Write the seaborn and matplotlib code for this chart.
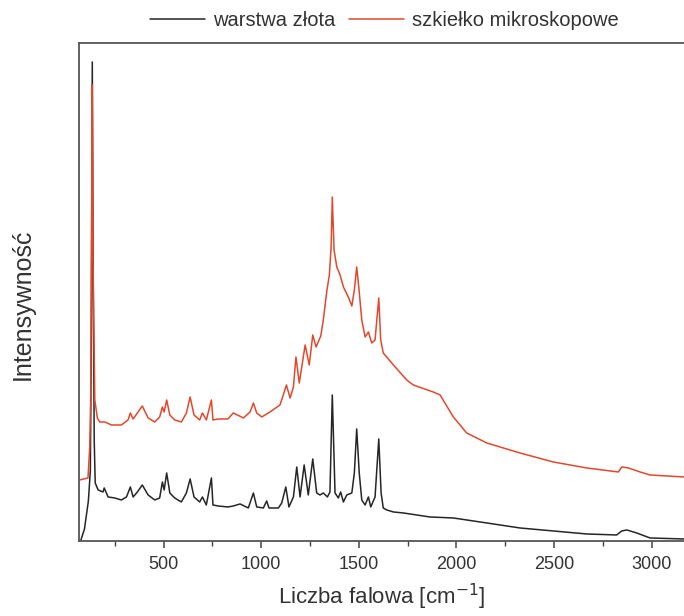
import matplotlib
matplotlib.use("Agg")
import matplotlib.pyplot as plt
import seaborn as sns
import pandas as pd
from matplotlib.ticker import MultipleLocator

sns.set_style("ticks")
plt.rcParams['font.family'] = ['Liberation Sans', 'DejaVu Sans']

# wavenumber [cm-1] and intensity (arb. units)
wn_gold = [72, 95, 115, 125, 130, 135, 140, 145, 150, 165, 190, 196, 216, 250, 284,
           310, 330, 344, 366, 391, 421, 455, 480, 494, 503, 516, 532, 557, 591, 617,
           636, 656, 685, 699, 719, 745, 753, 779, 830, 857, 892, 934, 960, 977, 1011,
           1028, 1040, 1088, 1105, 1126, 1142, 1165, 1182, 1199, 1220, 1241, 1264, 1284, 1301,
           1318, 1339, 1352, 1364, 1378, 1395, 1407, 1421, 1438, 1464, 1477, 1489, 1502, 1515,
           1532, 1549, 1561, 1583, 1602, 1614, 1625, 1643, 1677, 1728, 1796, 1864, 1984, 2155,
           2325, 2496, 2667, 2820, 2846, 2872, 2923, 2991, 3165]
int_gold = [-2, 12, 40, 70, 200, 479, 250, 100, 58, 51, 49, 53, 44, 43, 41,
            44, 54, 44, 49, 56, 46, 41, 43, 59, 51, 68, 48, 43, 39, 48,
            62, 44, 39, 44, 36, 63, 36, 35, 34, 35, 37, 33, 48, 34, 33,
            40, 33, 33, 38, 54, 34, 44, 74, 44, 76, 46, 82, 48, 46,
            48, 44, 49, 146, 48, 43, 49, 39, 46, 48, 68, 112, 68, 41,
            36, 44, 34, 44, 102, 48, 33, 31, 29, 28, 26, 24, 23, 18,
            13, 10, 7, 6, 10, 11, 8, 3, 2]

wn_glass = [70, 113, 122, 127, 131, 135, 139, 148, 161, 173, 199, 233, 284, 318, 330,
            344, 366, 391, 421, 455, 480, 494, 503, 516, 532, 557, 591, 617, 636, 656,
            685, 699, 719, 745, 753, 779, 830, 857, 909, 943, 960, 977, 1003, 1045, 1096,
            1113, 1129, 1148, 1165, 1178, 1195, 1225, 1246, 1264, 1281, 1305, 1318, 1336, 1349,
            1358, 1364, 1373, 1387, 1404, 1421, 1446, 1464, 1477, 1489, 1501, 1515, 1532, 1549,
            1566, 1583, 1602, 1612, 1625, 1677, 1745, 1779, 1881, 1916, 1984, 2052, 2155, 2325,
            2496, 2667, 2829, 2846, 2880, 2940, 2991, 3165]
int_glass = [61, 63, 94, 144, 300, 456, 280, 141, 123, 119, 119, 116, 116, 121, 128,
             122, 128, 135, 123, 119, 124, 134, 129, 141, 126, 121, 119, 128, 144, 126,
             121, 128, 121, 141, 121, 122, 122, 128, 123, 129, 138, 128, 124, 129, 136,
             146, 156, 143, 154, 184, 158, 196, 176, 206, 194, 205, 221, 250, 266,
             294, 344, 291, 274, 266, 254, 244, 235, 251, 274, 251, 221, 204, 209,
             198, 201, 243, 201, 188, 176, 161, 156, 149, 146, 124, 108, 98, 88,
             79, 73, 69, 74, 73, 69, 66, 64]

labels = ["warstwa złota", "szkiełko mikroskopowe"]
colors = ["#262626", "#e2492c"]

df = pd.concat([
    pd.DataFrame({"wn": wn_gold, "I": int_gold, "probka": labels[0]}),
    pd.DataFrame({"wn": wn_glass, "I": int_glass, "probka": labels[1]}),
])

fig = plt.figure(figsize=(6.84, 6.16), dpi=100)
ax = fig.add_axes([0.1155, 0.1218, 0.8845, 0.8084])

sns.lineplot(data=df, x="wn", y="I", hue="probka", palette=colors,
             estimator=None, sort=False, linewidth=1.1, ax=ax)

ax.set_xlim(67, 3165)
ax.set_ylim(0, 498)
ax.xaxis.set_major_locator(MultipleLocator(500))
ax.xaxis.set_minor_locator(MultipleLocator(250))
ax.set_yticks([])
ax.tick_params(axis="x", which="major", direction="out", length=5, width=1.1,
               labelsize=13, colors="#444444", labelcolor="#333333", pad=6)
ax.tick_params(axis="x", which="minor", direction="out", length=3.5, width=1.0,
               colors="#444444")
ax.spines["right"].set_visible(False)
for s in ["left", "bottom", "top"]:
    ax.spines[s].set_color("#555555")
    ax.spines[s].set_linewidth(1.3)

ax.set_xlabel("Liczba falowa [cm$^{-1}$]", fontsize=16, color="#333333", labelpad=6)
ax.set_ylabel("Intensywność", fontsize=18, color="#333333")
ax.yaxis.set_label_coords(-0.073, 0.476)

ax.legend(loc="center", bbox_to_anchor=(0.562, 0.966), bbox_transform=fig.transFigure,
          ncol=2, frameon=False, fontsize=14.5, handlelength=2.7, handletextpad=0.4,
          columnspacing=0.7, labelcolor="#333333")

fig.savefig("out.png", dpi=100)
